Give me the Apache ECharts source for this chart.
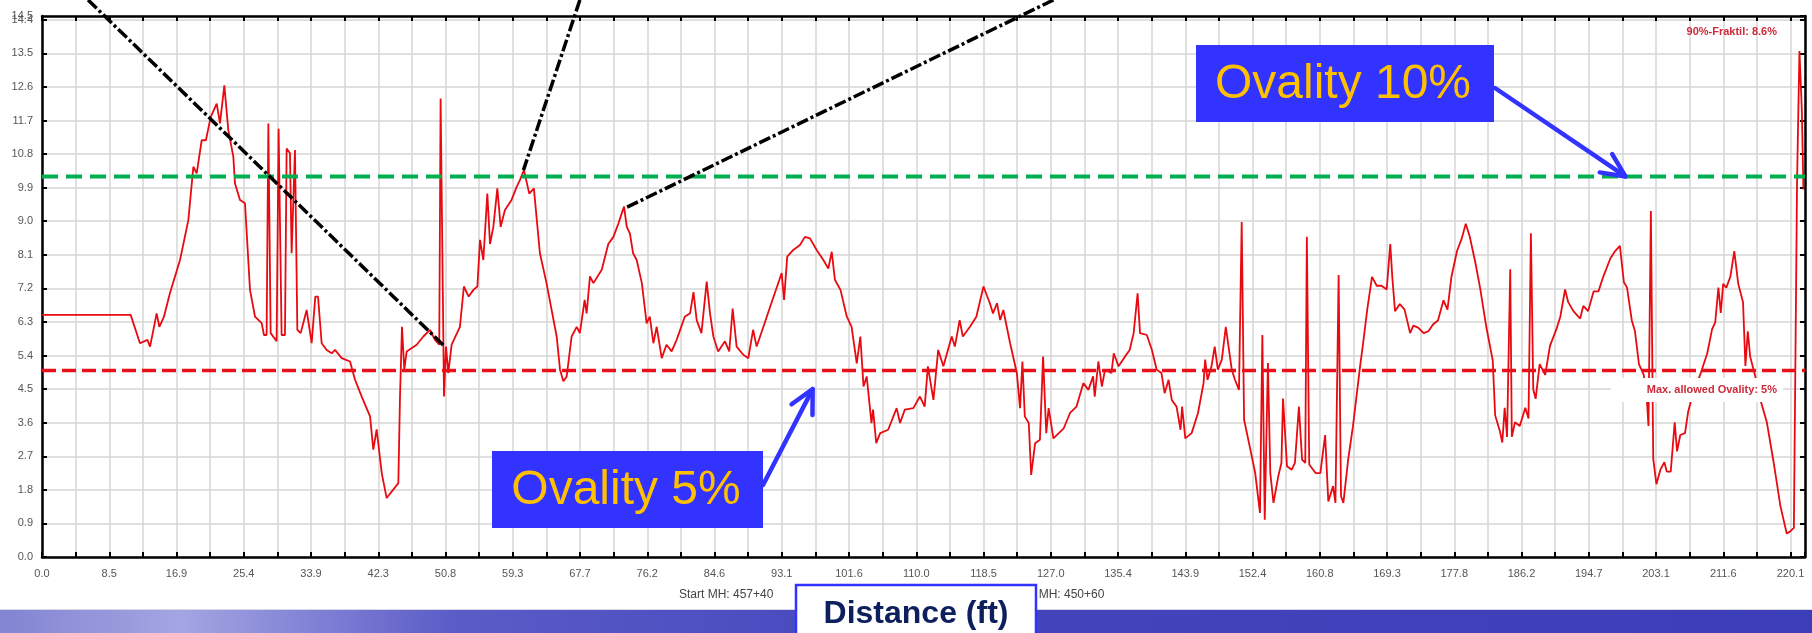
<!DOCTYPE html>
<html><head><meta charset="utf-8">
<script src="https://cdn.jsdelivr.net/npm/echarts@6/dist/echarts.min.js"></script>
<style>html,body{margin:0;padding:0;background:#fff;}#c{width:1812px;height:633px;}</style>
</head><body><div id="c"></div>
<script>
// ---------- data ----------
const distance = [0,11.16,12.33,13.26,13.6,14.43,14.77,15.35,16.1,17.37,18.42,19.05,19.47,20.1,20.63,21.23,21.99,22.4,22.95,23.45,24.08,24.29,24.92,25.55,26.18,26.81,27.65,27.94,28.27,28.49,28.78,29.53,29.78,30.16,30.58,30.79,31.21,31.42,31.84,32.14,32.56,33.31,33.94,34.4,34.74,35.2,35.83,36.46,36.88,37.72,38.77,39.4,40.24,41.29,41.7,42.12,42.76,43.38,44.85,45.06,45.31,45.6,45.9,47.16,48.0,48.83,49.46,50.0,50.17,50.6,50.85,51.14,51.56,52.6,53.1,53.7,54.3,54.8,55.13,55.55,56.05,56.39,56.81,57.31,57.73,58.27,59.1,59.74,60.15,60.66,61.33,61.91,62.67,63.5,64.78,65.2,65.62,66.04,66.66,67.3,67.7,68.3,68.55,68.97,69.4,70.45,71.28,71.92,72.55,72.97,73.26,73.6,74.0,74.4,74.85,75.5,76.1,76.5,76.95,77.37,78.0,78.6,79.25,79.88,80.9,81.57,82.0,82.4,83.0,83.66,84.08,84.5,85.1,85.96,86.5,86.93,87.43,88.27,88.9,89.5,89.95,90.8,91.8,93.1,93.4,93.8,94.56,95.4,96.03,96.66,97.5,98.35,98.97,99.4,99.8,100.5,101.3,101.9,102.55,103.0,103.4,103.8,104.4,104.6,105.0,105.5,106.5,107.57,108.0,108.6,109.67,110.5,111.1,111.5,112.2,112.8,113.45,114.5,114.9,115.5,115.9,116.8,117.6,118.5,119.3,119.7,120.2,120.6,121.0,121.85,122.7,123.1,123.4,123.7,124.2,124.5,125.0,125.6,126.0,126.4,126.7,127.3,128.6,129.4,130.2,131.07,131.7,132.3,132.5,132.96,133.4,133.8,134.6,134.9,135.5,136.3,136.9,137.4,137.9,138.2,139.06,139.7,140.3,140.9,141.3,141.8,142.2,142.8,143.3,143.5,143.9,144.7,145.5,146.2,146.4,146.7,147.2,147.6,148.0,148.5,149.0,149.75,150.15,150.66,151.0,151.3,152.0,152.7,153.3,153.6,153.9,154.3,154.6,155.0,155.6,156.0,156.2,156.7,157.3,157.7,158.2,158.6,159.0,159.2,159.5,160.3,160.9,161.5,161.9,162.5,162.8,163.2,163.5,163.8,164.4,165.0,165.9,166.3,166.8,167.4,168.0,168.6,169.25,169.7,169.95,170.3,170.9,171.5,172.2,172.6,173.2,173.9,174.5,175.1,175.7,176.4,176.9,177.4,178.1,178.7,179.2,179.7,180.4,181.0,181.8,182.6,182.9,183.5,183.8,184.1,184.4,184.8,185.0,185.4,186.0,186.7,187.1,187.4,187.7,188.0,188.5,189.2,189.8,190.6,191.1,191.7,192.1,192.75,193.6,194.0,194.6,195.3,195.9,196.5,197.4,198.0,198.6,199.1,199.5,200.1,200.5,201.0,201.6,202.0,202.2,202.5,202.8,203.2,203.7,204.2,204.5,205.0,205.5,205.8,206.2,206.8,207.2,207.8,208.7,209.6,210.2,210.6,211.0,211.3,211.6,212.0,212.5,213.0,213.5,214.1,214.4,214.7,215.0,215.6,216.3,217.1,217.95,218.8,219.6,220.0,220.5,220.9,221.2,221.5,221.7];
const ovality = [6.49,6.49,5.73,5.82,5.64,6.53,6.17,6.44,7.07,7.96,9.03,10.46,10.28,11.17,11.17,11.79,12.15,11.62,12.64,11.44,10.73,10.01,9.57,9.48,7.16,6.44,6.27,5.95,5.95,11.62,6.0,5.78,11.48,5.95,5.95,10.95,10.82,8.14,10.91,6.09,6.0,6.62,5.73,6.98,6.98,5.73,5.55,5.46,5.55,5.33,5.24,4.75,4.3,3.77,2.88,3.42,2.25,1.58,1.98,4.3,6.17,5.02,5.51,5.69,5.91,6.09,5.82,5.69,12.29,4.3,5.64,4.93,5.69,6.17,7.25,6.98,7.16,7.25,8.5,7.96,9.74,8.39,8.85,9.88,8.85,9.3,9.57,9.92,10.1,10.37,9.74,9.88,8.14,7.34,5.91,5.02,4.71,4.84,5.91,6.17,6.0,6.89,6.53,7.52,7.34,7.7,8.39,8.58,8.94,9.21,9.39,8.85,8.67,8.14,7.96,7.34,6.26,6.44,5.73,6.17,5.33,5.69,5.51,5.82,6.44,6.53,7.1,6.35,6.0,7.38,6.53,5.91,5.51,5.78,5.51,6.66,5.64,5.42,5.33,6.09,5.64,6.17,6.8,7.61,6.89,8.05,8.23,8.36,8.58,8.54,8.23,7.96,7.73,8.18,7.43,7.16,6.44,6.17,5.19,5.91,4.57,4.84,3.59,3.95,3.05,3.32,3.41,3.99,3.59,3.95,3.99,4.3,4.03,5.11,4.21,5.55,5.11,5.91,5.64,6.35,5.91,6.17,6.44,7.25,6.8,6.53,6.8,6.35,6.62,5.73,4.93,3.99,5.24,3.77,3.59,2.2,3.05,3.14,5.37,3.32,3.99,3.18,3.45,3.86,4.03,4.66,4.48,4.84,4.3,5.24,4.57,5.02,4.93,5.46,5.11,5.37,5.55,6.0,7.07,6.0,5.95,5.55,5.02,4.93,4.39,4.75,4.21,4.03,3.41,4.03,3.18,3.32,3.86,4.66,5.29,4.75,5.11,5.64,5.02,5.29,6.17,5.02,4.75,4.48,8.98,3.68,2.97,2.25,1.18,5.95,1.0,5.2,2.25,1.45,2.16,2.52,4.25,2.43,2.34,2.52,4.03,2.61,2.52,8.58,2.48,2.25,2.25,3.27,1.49,1.9,1.45,7.56,1.63,1.45,2.61,3.5,5.11,5.76,6.63,7.51,7.27,7.27,7.17,8.39,7.51,6.59,6.78,6.63,6.0,6.2,6.15,6.0,6.05,6.24,6.34,6.88,6.63,7.51,8.2,8.54,8.93,8.59,7.9,7.22,6.15,5.27,3.8,3.37,3.07,4.0,3.22,7.71,3.22,3.61,3.51,4.0,3.71,8.68,4.49,4.24,5.17,4.88,5.66,6.1,6.44,7.17,6.83,6.59,6.39,6.73,6.59,7.12,7.12,7.51,8.0,8.2,8.34,7.37,7.22,6.34,6.05,5.17,4.88,4.2,3.51,9.27,2.63,1.95,2.34,2.54,2.29,2.29,3.61,2.83,3.27,3.32,3.9,4.39,4.88,5.46,6.1,6.29,7.22,6.54,7.32,7.22,7.51,8.2,7.32,6.83,5.12,6.05,5.37,4.88,4.2,3.61,2.54,1.37,0.63,0.68,0.78,10.05,13.56,12.0,9.85];

const xTickLabels = ['0.0','8.5','16.9','25.4','33.9','42.3','50.8','59.3','67.7','76.2','84.6','93.1','101.6','110.0','118.5','127.0','135.4','143.9','152.4','160.8','169.3','177.8','186.2','194.7','203.1','211.6','220.1'];
const yTickLabels = ['0.0','0.9','1.8','2.7','3.6','4.5','5.4','6.3','7.2','8.1','9.0','9.9','10.8','11.7','12.6','13.5','14.4'];
const yMaxLabel = '14.5';
const xStep = 8.46445, xMax = 221.9;
const yStep = 0.9, yMax = 14.5;

const maxAllowed = 5.0;      // red dashed line
const ovality10Line = 10.2;  // green dashed line
const fraktilText = '90%-Fraktil: 8.6%';
const maxAllowedText = 'Max. allowed Ovality: 5%';
const startMH = 'Start MH: 457+40';
const endMH = 'End MH: 450+60';
const xAxisTitle = 'Distance (ft)';
const callout10 = 'Ovality 10%';
const callout5 = 'Ovality 5%';

// leader lines (dash-dot) : [top end, peak end] in data units
const leader1 = [[5.8, 14.93], [50.7, 5.64]];
const leader2 = [[67.7, 14.93], [60.6, 10.37]];
const leader3 = [[127.3, 14.93], [73.3, 9.34]];
// arrow tips in data units
const arrowTip10 = [199.3, 10.2];
const arrowTip5 = [97.0, 4.5];

// ---------- chart ----------
const FONT = 'Liberation Sans, Arial, sans-serif';
const chart = echarts.init(document.getElementById('c'), null, {renderer: 'canvas'});
const seriesData = distance.map((d, i) => [d, ovality[i]]);
const gridLine = {show: true, lineStyle: {color: '#d6d6d6', width: 1.5}};
const axisLineStyle = {show: true, onZero: false, lineStyle: {color: '#000', width: 2.5}};
const tickStyle = {show: true, inside: true, length: 5, lineStyle: {color: '#000', width: 2}};
const minorTickStyle = {show: true, splitNumber: 2, length: 5, lineStyle: {color: '#000', width: 2}};
const labelBase = {color: '#555', fontSize: 11, fontFamily: FONT, hideOverlap: false};

const dashDot = [12, 3, 3, 3];
function leaderSeries(pts) {
  return {type: 'line', data: pts, symbol: 'none', clip: false, silent: true, z: 8,
    lineStyle: {color: '#000', width: 3.5, type: dashDot}};
}

chart.setOption({
  animation: false,
  backgroundColor: '#fff',
  grid: {left: 42, right: 7, top: 16, bottom: 76, containLabel: false, outerBoundsMode: 'none'},
  xAxis: [{
    type: 'value', min: 0, max: xMax, interval: xStep, position: 'bottom',
    axisLine: axisLineStyle, axisTick: tickStyle, minorTick: minorTickStyle,
    splitLine: gridLine, minorSplitLine: gridLine,
    axisLabel: Object.assign({show: true, showMaxLabel: false, showMinLabel: true, margin: 11,
      formatter: v => { const i = Math.round(v / xStep); return Math.abs(v - i * xStep) < 1e-6 && xTickLabels[i] !== undefined ? xTickLabels[i] : ''; }}, labelBase)
  }, {
    type: 'value', min: 0, max: xMax, interval: xStep, position: 'top',
    axisLine: axisLineStyle, axisTick: tickStyle, minorTick: minorTickStyle,
    splitLine: {show: false}, axisLabel: {show: false}
  }],
  yAxis: [{
    type: 'value', min: 0, max: yMax, interval: yStep, position: 'left',
    axisLine: axisLineStyle, axisTick: tickStyle, splitLine: gridLine,
    axisLabel: Object.assign({show: true, showMaxLabel: false, showMinLabel: true, margin: 9,
      formatter: v => v >= yMax - 1e-6 ? '' : yTickLabels[Math.round(v / yStep)]}, labelBase)
  }, {
    type: 'value', min: 0, max: yMax, interval: yStep, position: 'right',
    axisLine: axisLineStyle, axisTick: tickStyle, splitLine: {show: false}, axisLabel: {show: false}
  }, {
    // second left axis that only carries the top (max) label, so it overlaps 14.4 like the original
    type: 'value', min: 0, max: yMax, interval: yStep, position: 'left', offset: 0,
    axisLine: {show: false}, axisTick: {show: false}, splitLine: {show: false},
    axisLabel: Object.assign({show: true, showMaxLabel: true, showMinLabel: false, margin: 9,
      formatter: v => v >= yMax - 1e-6 ? yMaxLabel : ''}, labelBase)
  }],
  series: [
    {type: 'line', data: seriesData, symbol: 'none', z: 4,
      lineStyle: {color: '#e80a10', width: 1.8}},
    {type: 'line', data: [[0, maxAllowed], [xMax, maxAllowed]], symbol: 'none', z: 5, silent: true,
      lineStyle: {color: '#e8101a', width: 3.5, type: [14, 6]}},
    {type: 'line', data: [[0, ovality10Line], [xMax, ovality10Line]], symbol: 'none', z: 5, silent: true,
      lineStyle: {color: '#00b050', width: 4, type: [16, 8]}},
    leaderSeries(leader1), leaderSeries(leader2), leaderSeries(leader3)
  ]
});

function arrow(from, tip, len, ang) {
  const a = Math.atan2(from[1] - tip[1], from[0] - tip[0]);
  const b1 = [tip[0] + len * Math.cos(a + ang), tip[1] + len * Math.sin(a + ang)];
  const b2 = [tip[0] + len * Math.cos(a - ang), tip[1] + len * Math.sin(a - ang)];
  const st = {stroke: '#3333ff', lineWidth: 4.5, lineCap: 'round', lineJoin: 'round', fill: null};
  return [
    {type: 'line', shape: {x1: from[0], y1: from[1], x2: tip[0], y2: tip[1]}, style: st, z: 120},
    {type: 'polyline', shape: {points: [b1, tip, b2]}, style: st, z: 120}
  ];
}
function txt(x, y, text, font, fill, align, z) {
  return {type: 'text', x: x, y: y, z: z || 130,
    style: {text: text, font: font, fill: fill, align: align || 'center', verticalAlign: 'middle',
      textAlign: align || 'center', textVerticalAlign: 'middle'}};
}

const P = pt => chart.convertToPixel({gridIndex: 0}, pt);
const g = [];
// bottom slide band
g.push({type: 'rect', shape: {x: 0, y: 609, width: 1812, height: 1}, style: {fill: '#d8d8e4'}, z: 100});
g.push({type: 'rect', shape: {x: 0, y: 610, width: 1812, height: 23}, z: 100,
  style: {fill: {type: 'linear', x: 0, y: 0, x2: 1, y2: 0, colorStops: [
    {offset: 0, color: '#8384d2'}, {offset: 0.1, color: '#a4a5e2'}, {offset: 0.25, color: '#5b5cc7'},
    {offset: 0.5, color: '#4546bd'}, {offset: 1, color: '#3c3db8'}]}}});
// start / end MH labels (under the Distance box)
g.push(txt(679, 595, startMH, '12px ' + FONT, '#444', 'left', 110));
g.push(txt(1014, 595, endMH, '12px ' + FONT, '#444', 'left', 110));
// Distance box
g.push({type: 'rect', shape: {x: 796, y: 585, width: 240, height: 52}, z: 125,
  style: {fill: '#fff', stroke: '#3333ff', lineWidth: 2.5}});
g.push(txt(916, 614, xAxisTitle, 'bold 32px ' + FONT, '#0d1f5c', 'center'));
// 90% fraktil
g.push(txt(1777, 32, fraktilText, 'bold 11px ' + FONT, '#cc2a3a', 'right'));
// max allowed label with white background
g.push({type: 'rect', shape: {x: 1611, y: 378, width: 172, height: 24}, style: {fill: '#fff'}, z: 126});
g.push(txt(1777, 390, maxAllowedText, 'bold 11px ' + FONT, '#cc2a3a', 'right'));
// callouts
g.push({type: 'rect', shape: {x: 1196, y: 45, width: 298, height: 77}, style: {fill: '#3333ff'}, z: 125});
g.push(txt(1343, 85, callout10, '48px ' + FONT, '#ffc000', 'center'));
g.push({type: 'rect', shape: {x: 492, y: 451, width: 271, height: 77}, style: {fill: '#3333ff'}, z: 125});
g.push(txt(626, 491, callout5, '48px ' + FONT, '#ffc000', 'center'));
// arrows
arrow([1495, 88], P(arrowTip10), 26, 0.44).forEach(e => g.push(e));
arrow([763, 485], P(arrowTip5), 26, 0.47).forEach(e => g.push(e));
chart.setOption({graphic: g});
</script></body></html>
